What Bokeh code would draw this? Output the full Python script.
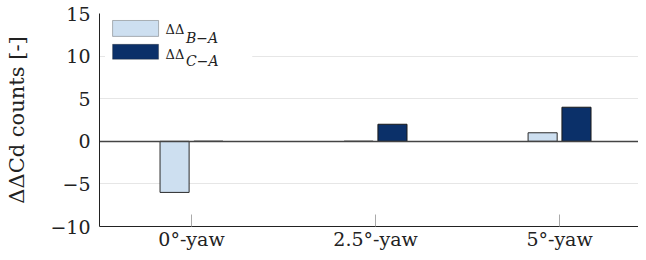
from bokeh.plotting import figure
from bokeh.models import ColumnDataSource, FixedTicker, BoxAnnotation, Label, Range1d
from bokeh.embed import file_html
from bokeh.resources import INLINE

categories = ["0°-yaw", "2.5°-yaw", "5°-yaw"]
dd_b_a = [-6, 0, 1]
dd_c_a = [0, 2, 4]
y_ticks = [-10, -5, 0, 5, 10, 15]
y_tick_labels = ["−10", "−5", "0", "5", "10", "15"]
series_names = ["B−A", "C−A"]

LIGHT = "#cddff0"
DARK = "#0b3069"
FONT = "DejaVu Serif"

idx = list(range(len(categories)))
off = 0.092
bw = 0.158

p = figure(width=638, height=252, output_backend="svg", toolbar_location=None,
           x_range=Range1d(-0.5, 2.429), y_range=Range1d(-10, 15),
           min_border_left=99, min_border_right=0, min_border_top=13, min_border_bottom=25)
p.outline_line_color = None
p.background_fill_color = "white"
p.border_fill_color = "white"

src_b = ColumnDataSource(dict(x=[i - off for i in idx], top=dd_b_a))
src_c = ColumnDataSource(dict(x=[i + off for i in idx], top=dd_c_a))
p.vbar(x="x", top="top", bottom=0, width=bw, source=src_b,
       fill_color=LIGHT, line_color="#2a2a2a", line_width=1)
p.vbar(x="x", top="top", bottom=0, width=bw, source=src_c,
       fill_color=DARK, line_color="#1a1a1a", line_width=1)

# zero line
p.hspan(y=[0], line_color="#444444", line_width=1.3)

# axes
p.xaxis.ticker = FixedTicker(ticks=idx)
p.xaxis.major_label_overrides = {i: c for i, c in zip(idx, categories)}
p.xaxis.major_tick_in = 12
p.xaxis.major_tick_out = 0
p.xaxis.major_tick_line_color = "#aaaaaa"
p.xaxis.minor_tick_line_color = None
p.xaxis.axis_line_color = "#222222"
p.xaxis.major_label_standoff = 1
p.xaxis.major_label_text_font = FONT
p.xaxis.major_label_text_font_size = "19px"
p.xaxis.major_label_text_color = "#222222"

p.yaxis.ticker = FixedTicker(ticks=y_ticks)
p.yaxis.major_label_overrides = {t: l for t, l in zip(y_ticks, y_tick_labels)}
p.yaxis.major_tick_in = 0
p.yaxis.major_tick_out = 0
p.yaxis.minor_tick_line_color = None
p.yaxis.axis_line_color = "#222222"
p.yaxis.major_label_standoff = 9
p.yaxis.major_label_text_font = FONT
p.yaxis.major_label_text_font_size = "19px"
p.yaxis.major_label_text_color = "#222222"
p.yaxis.axis_label = "ΔΔCd counts [-]"
p.yaxis.axis_label_text_font = FONT
p.yaxis.axis_label_text_font_style = "normal"
p.yaxis.axis_label_text_font_size = "21px"
p.yaxis.axis_label_text_color = "#222222"
p.yaxis.axis_label_standoff = 18

p.xgrid.grid_line_color = None
p.ygrid.grid_line_color = "#e6e6e6"
p.ygrid.grid_line_width = 1

# legend (manual)
p.add_layout(BoxAnnotation(left=-0.47, right=0.33, bottom=8.6, top=15,
                           fill_color="white", fill_alpha=1, line_color=None))
sw = [(14.18, 12.31, LIGHT), (11.38, 9.63, DARK)]
lab_y = [(13.1, 12.1), (10.2, 9.4)]
for (t, b, c), (ly, sy), name in zip(sw, lab_y, series_names):
    p.add_layout(BoxAnnotation(left=-0.429, right=-0.179, bottom=b, top=t,
                               fill_color=c, fill_alpha=1, line_color="#1a1a1a", line_width=1))
    p.add_layout(Label(x=-0.141, y=ly, text="ΔΔ", text_font=FONT, text_font_size="13px",
                       text_color="#222222", text_baseline="alphabetic"))
    p.add_layout(Label(x=-0.03, y=sy, text=name, text_font=FONT, text_font_size="14px",
                       text_font_style="italic", text_color="#222222", text_baseline="alphabetic"))

open("out.html", "w").write(file_html(p, INLINE))
